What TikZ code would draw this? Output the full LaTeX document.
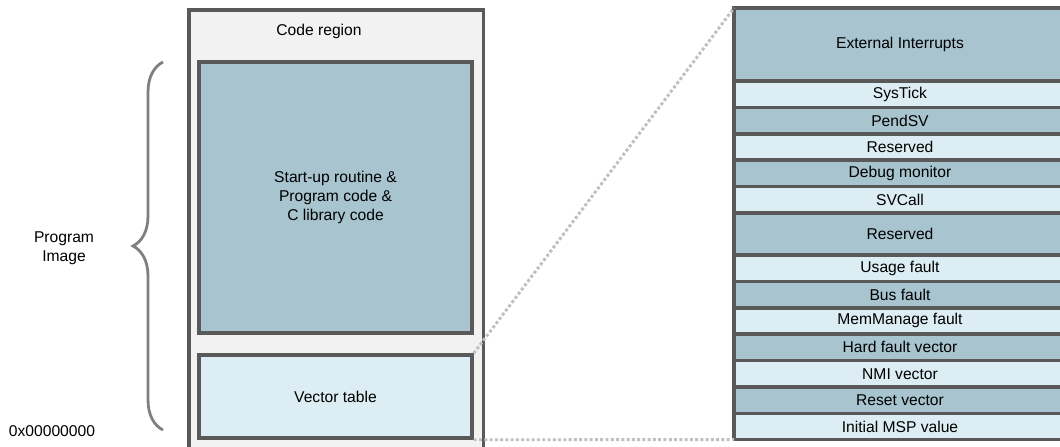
\documentclass[tikz,border=0pt]{standalone}
\usepackage{fontspec}
\setmainfont{Liberation Sans}
\usetikzlibrary{positioning,decorations.pathreplacing}
\definecolor{boxline}{HTML}{595959}
\definecolor{darkfill}{HTML}{A7C4CF}
\definecolor{lightfill}{HTML}{DCEDF3}
\definecolor{regionfill}{HTML}{F2F2F2}
\definecolor{dotgray}{HTML}{C0C0C0}
\definecolor{bracegray}{HTML}{7F7F7F}
\begin{document}
\begin{tikzpicture}[x=0.02cm, y=-0.02cm,
        font=\fontsize{8.9pt}{11pt}\selectfont,
        region/.style = {draw=boxline, line width=2pt, fill=regionfill},
        codebox/.style = {draw=boxline, line width=2pt, fill=darkfill, align=center, minimum width=5.46cm},
        vecbox/.style = {draw=boxline, line width=2pt, fill=lightfill, minimum width=5.46cm},
        darkrow/.style = {draw=boxline, line width=2pt, fill=darkfill, outer sep=0pt, minimum width=6.64cm, minimum height=0.528cm, inner sep=0pt},
        lightrow/.style = {darkrow, fill=lightfill},
        zoomline/.style = {dotgray, line width=1.7pt, dash pattern=on 1.7pt off 1.3pt}]
        \useasboundingbox (0,0) rectangle (1060,446);
        \clip (0,0) rectangle (1060,446);
        % memory map
        \node[region, anchor=north west, minimum width=5.9cm, minimum height=9.6cm] (code) at (187,8) {};
        \node (title) at (319,31) {Code region};
        \node[codebox, minimum height=5.42cm] (prog) at (335.5,197.5) {Start-up routine \&\\Program code \&\\C library code};
        \node[vecbox, minimum height=1.66cm] (vec) at (335.5,396.5) {Vector table};
        % program image brace
        \coordinate (btop) at (163,62);
        \coordinate (bbot) at (163,430);
        \draw[bracegray, line width=1.6pt, decorate, decoration={brace, amplitude=0.6cm}] (bbot) -- (btop);
        \node[align=center] (img) at (64,248) {Program\\Image};
        \node (addr) at (52,431) {0x00000000};
        % vector table entries
        \node[darkrow, minimum height=1.46cm, anchor=north west] (ext) at (734,8) {External Interrupts};
        \node[lightrow, below=0pt of ext] (systick) {SysTick};
        \node[darkrow, below=0pt of systick] (pendsv) {PendSV};
        \node[lightrow, below=0pt of pendsv] (res1) {Reserved};
        \node[darkrow, below=0pt of res1] (debug) {Debug monitor};
        \node[lightrow, below=0pt of debug] (svcall) {SVCall};
        \node[darkrow, minimum height=0.84cm, below=0pt of svcall] (res2) {Reserved};
        \node[lightrow, below=0pt of res2] (usage) {Usage fault};
        \node[darkrow, below=0pt of usage] (bus) {Bus fault};
        \node[lightrow, below=0pt of bus] (memman) {MemManage fault};
        \node[darkrow, below=0pt of memman] (hard) {Hard fault vector};
        \node[lightrow, below=0pt of hard] (nmi) {NMI vector};
        \node[darkrow, below=0pt of nmi] (reset) {Reset vector};
        \node[lightrow, below=0pt of reset] (msp) {Initial MSP value};
        % zoom lines
        \draw[zoomline] (vec.north east) -- (ext.north west);
        \draw[zoomline] (vec.south east) -- (msp.south west);
    \end{tikzpicture}
\end{document}
